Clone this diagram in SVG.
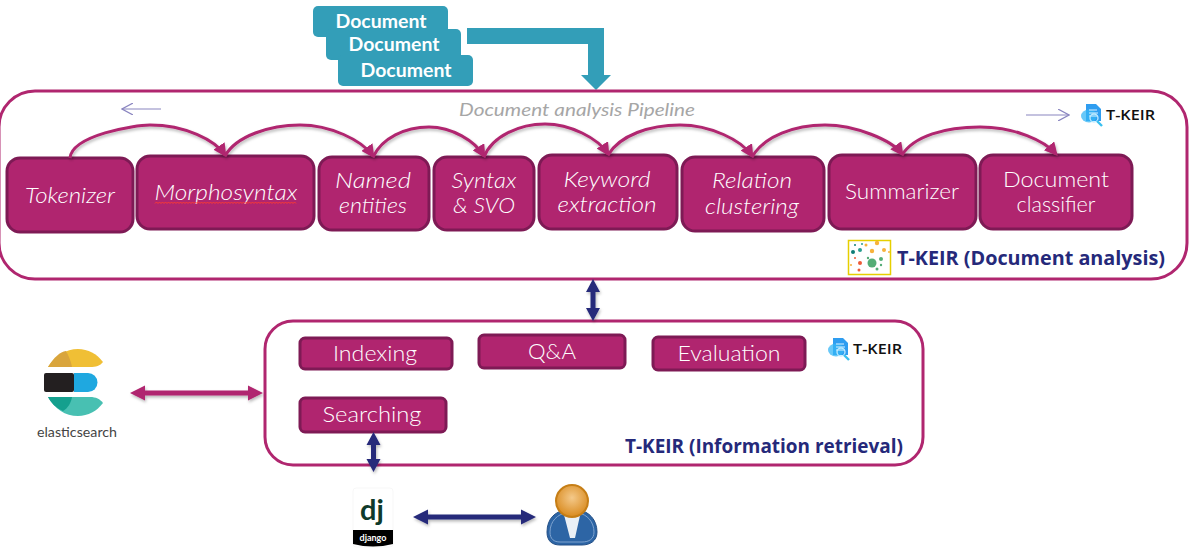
<svg xmlns="http://www.w3.org/2000/svg" width="1190" height="553" viewBox="0 0 1190 553">
<style>
text{font-family:"Lato","Open Sans","Liberation Sans",sans-serif}
.container{fill:#fff;stroke:#b0266f;stroke-width:3}
.step{fill:#b0256f;stroke:#7e1a55;stroke-width:3}
.lbl{fill:#fff;font-size:22px;text-anchor:middle;font-weight:300}
.it{font-style:italic}
.doc{fill:#339eb8}
.doct{fill:#fff;font-size:18px;font-weight:700;text-anchor:middle}
.arc{fill:none;stroke:#b0266f;stroke-width:3;marker-end:url(#ah)}
.title{fill:#25297a;font-size:20px;font-weight:700;font-family:"Open Sans","Lato",sans-serif}
.thin{fill:none;stroke:#8a85c0;stroke-width:1.2}
.logot{fill:#111;font-size:15px;font-weight:600;font-family:"Open Sans",sans-serif}
</style>
<defs>
<filter id="sh" x="-20%" y="-20%" width="140%" height="140%"><feDropShadow dx="1" dy="2" stdDeviation="1.5" flood-color="#000" flood-opacity=".28"/></filter>
<marker id="ah" viewBox="0 0 10 10" refX="8" refY="5" markerWidth="4.5" markerHeight="4.5" orient="auto"><path d="M0 0L10 5L0 10Z" fill="#b0266f"/></marker>
<marker id="tm" viewBox="0 0 12 12" refX="11" refY="6" markerWidth="12" markerHeight="12" markerUnits="userSpaceOnUse" orient="auto"><path d="M0 0L11 6L0 12" fill="none" stroke="#8a85c0" stroke-width="1.2"/></marker>
<radialGradient id="head" cx=".5" cy=".4" r=".6"><stop offset="0" stop-color="#f4c98a"/><stop offset="1" stop-color="#d98a1e"/></radialGradient>
<symbol id="tk" viewBox="0 0 76 24" overflow="visible">
<path d="M6 1h10l5 5v12H6z" fill="#2f9df0"/><ellipse cx="9" cy="13" rx="8" ry="6.500" fill="#35b6f5" opacity=".75"/><path d="M9 7h8M9 10h9M9 13h9" stroke="#d9f1ff" stroke-width="1.200"/><circle cx="14" cy="15" r="4" fill="none" stroke="#bfeaff" stroke-width="1.300"/><path d="M17 18l5 5" stroke="#39c0f0" stroke-width="2.400"/>
<text class="logot" x="26" y="17" textLength="49" lengthAdjust="spacingAndGlyphs">T-KEIR</text>
</symbol>
</defs>

<g id="doc-1"><rect class="doc" x="313" y="6" width="135" height="31" rx="5"/><text class="doct" x="381" y="28" textLength="91" lengthAdjust="spacingAndGlyphs">Document</text></g>
<g id="doc-2"><rect class="doc" x="326" y="29" width="135" height="31" rx="5"/><text class="doct" x="394" y="51" textLength="91" lengthAdjust="spacingAndGlyphs">Document</text></g>
<g id="doc-3"><rect class="doc" x="338" y="55" width="135" height="31" rx="5"/><text class="doct" x="406" y="77" textLength="91" lengthAdjust="spacingAndGlyphs">Document</text></g>
<path id="doc-arrow" class="doc" d="M467 28H604V75H611L596 90L581 75H588V44H467Z"/>

<g id="pipeline">
<rect class="container" x="-1" y="91" width="1188" height="188" rx="36"/>
<text x="577" y="116" text-anchor="middle" font-size="18" font-style="italic" fill="#a6a6a6" font-weight="400" textLength="236" lengthAdjust="spacingAndGlyphs">Document analysis Pipeline</text>
<text class="title" x="897" y="265" textLength="268" lengthAdjust="spacingAndGlyphs">T-KEIR (Document analysis)</text>
<use href="#tk" x="1080" y="103" width="76" height="24"/>
<g id="scatter"><rect x="848.500" y="240.500" width="42" height="34" fill="#fff" stroke="#e6cf00" stroke-width="1.500"/>
<circle cx="872" cy="263" r="4.500" fill="#55ad76"/><circle cx="881" cy="259" r="2" fill="#55ad76"/><circle cx="877" cy="269" r="1.500" fill="#55ad76"/><circle cx="881" cy="265" r="1.200" fill="#55ad76"/><circle cx="868" cy="258" r="1.200" fill="#55ad76"/>
<circle cx="860" cy="250" r="2" fill="#2a9d8f"/><circle cx="853" cy="252" r="2" fill="#0f7d76"/><circle cx="855" cy="245" r="1" fill="#0f7d76"/><circle cx="862" cy="244" r="1" fill="#2a9d8f"/>
<circle cx="872" cy="251" r="2.200" fill="#f7b23b"/><circle cx="877" cy="243" r="2.200" fill="#f7b23b"/><circle cx="884" cy="250" r="2" fill="#f7b23b"/><circle cx="866" cy="245" r="1.500" fill="#f7b23b"/><circle cx="889" cy="252" r="1" fill="#f7b23b"/>
<circle cx="860" cy="263" r="2" fill="#ee5a38"/><circle cx="855" cy="258" r="1" fill="#ee5a38"/><circle cx="859" cy="270" r="1.500" fill="#ee5a38"/><circle cx="851" cy="265" r="1" fill="#f7b23b"/></g>
</g>

<g id="tokenizer"><rect class="step" x="7" y="158" width="126" height="74" rx="13"/><text class="lbl it" x="70" y="203" textLength="90" lengthAdjust="spacingAndGlyphs">Tokenizer</text></g>
<g id="morphosyntax"><rect class="step" x="137" y="156" width="177" height="73" rx="13"/><text class="lbl it" x="226" y="200" textLength="143" lengthAdjust="spacingAndGlyphs">Morphosyntax</text>
<path d="M155 203.500l1.500-1.500l1.500 1.500l1.500-1.500l1.500 1.500l1.500-1.500l1.500 1.500l1.500-1.500l1.500 1.500l1.500-1.500l1.500 1.500l1.500-1.500l1.500 1.500l1.500-1.500l1.500 1.500l1.500-1.500l1.500 1.500l1.500-1.500l1.500 1.500l1.500-1.500l1.500 1.500l1.500-1.500l1.500 1.500l1.500-1.500l1.500 1.500l1.500-1.500l1.500 1.500l1.500-1.500l1.500 1.500l1.500-1.500l1.500 1.500l1.500-1.500l1.500 1.500l1.500-1.500l1.500 1.500l1.500-1.500l1.500 1.500l1.500-1.500l1.500 1.500l1.500-1.500l1.500 1.500l1.500-1.500l1.500 1.500l1.500-1.500l1.500 1.500l1.500-1.500l1.500 1.500l1.500-1.500l1.500 1.500l1.500-1.500l1.500 1.500l1.500-1.500l1.500 1.500l1.500-1.500l1.500 1.500l1.500-1.500l1.500 1.500l1.500-1.500l1.500 1.500l1.500-1.500l1.500 1.500l1.500-1.500l1.500 1.500l1.500-1.500l1.500 1.500l1.500-1.500l1.500 1.500l1.500-1.500l1.500 1.500l1.500-1.500l1.500 1.500l1.500-1.500l1.500 1.500l1.500-1.500l1.500 1.500l1.500-1.500l1.500 1.500l1.500-1.500l1.500 1.500l1.500-1.500l1.500 1.500l1.500-1.500l1.500 1.500l1.500-1.500l1.500 1.500l1.500-1.500l1.500 1.500l1.500-1.500l1.500 1.500l1.500-1.500l1.500 1.500l1.500-1.500l1.500 1.500l1.500-1.500l1.500 1.500" fill="none" stroke="#ff3b30" stroke-width="1"/></g>
<g id="named-entities"><rect class="step" x="319" y="157" width="110" height="73" rx="13"/><text class="lbl it" x="373" y="188" textLength="76" lengthAdjust="spacingAndGlyphs">Named</text><text class="lbl it" x="373" y="213" textLength="68" lengthAdjust="spacingAndGlyphs">entities</text></g>
<g id="syntax-svo"><rect class="step" x="434" y="157" width="100" height="73" rx="13"/><text class="lbl it" x="484" y="188" textLength="65" lengthAdjust="spacingAndGlyphs">Syntax</text><text class="lbl it" x="484" y="213" textLength="62" lengthAdjust="spacingAndGlyphs">&amp; SVO</text></g>
<g id="keyword-extraction"><rect class="step" x="539" y="155" width="138" height="74" rx="13"/><text class="lbl it" x="607" y="187" textLength="87" lengthAdjust="spacingAndGlyphs">Keyword</text><text class="lbl it" x="607" y="212" textLength="99" lengthAdjust="spacingAndGlyphs">extraction</text></g>
<g id="relation-clustering"><rect class="step" x="682" y="157" width="142" height="74" rx="13"/><text class="lbl it" x="752" y="188" textLength="80" lengthAdjust="spacingAndGlyphs">Relation</text><text class="lbl it" x="752" y="214" textLength="94" lengthAdjust="spacingAndGlyphs">clustering</text></g>
<g id="summarizer"><rect class="step" x="829" y="155" width="147" height="74" rx="13"/><text class="lbl" x="902" y="199" textLength="114" lengthAdjust="spacingAndGlyphs">Summarizer</text></g>
<g id="document-classifier"><rect class="step" x="980" y="155" width="152" height="74" rx="13"/><text class="lbl" x="1056" y="187" textLength="106" lengthAdjust="spacingAndGlyphs">Document</text><text class="lbl" x="1056" y="212" textLength="79" lengthAdjust="spacingAndGlyphs">classifier</text></g>

<g id="retrieval">
<rect class="container" x="265" y="321" width="658" height="144" rx="28"/>
<text class="title" x="625" y="453" textLength="278" lengthAdjust="spacingAndGlyphs">T-KEIR (Information retrieval)</text>
<use href="#tk" x="827" y="337" width="76" height="24"/>
</g>
<g id="indexing"><rect class="step" x="300" y="338" width="152" height="31" rx="5"/><text class="lbl" x="375" y="361" textLength="84" lengthAdjust="spacingAndGlyphs">Indexing</text></g>
<g id="qa"><rect class="step" x="479" y="335" width="146" height="33" rx="5"/><text class="lbl" x="552" y="359" textLength="48" lengthAdjust="spacingAndGlyphs">Q&amp;A</text></g>
<g id="evaluation"><rect class="step" x="653" y="337" width="152" height="33" rx="5"/><text class="lbl" x="729" y="361" textLength="103" lengthAdjust="spacingAndGlyphs">Evaluation</text></g>
<g id="searching"><rect class="step" x="300" y="398" width="146" height="34" rx="5"/><text class="lbl" x="372" y="422" textLength="99" lengthAdjust="spacingAndGlyphs">Searching</text></g>

<g id="elasticsearch">
<path d="M48 367C55 356 66 349 78 349C88 349 97 354 103 362C100 366 96 367 90 367Z" fill="#f0bf35"/>
<path d="M48 367C54 357 60 352 66 351C69 356 71 362 72 367Z" fill="#d9a53c"/>
<rect x="44" y="373" width="30" height="19" rx="2" fill="#231f20"/>
<path d="M74 373H88a9.500 9.500 0 0 1 0 19H74Z" fill="#1fa8e0"/>
<path d="M48 397H90C96 397 100 399 103 403C97 411 88 416 78 416C65 416 55 409 48 397Z" fill="#48c0b2"/>
<path d="M48 397H72C71 403 68 408 63 411C56 408 51 403 48 397Z" fill="#14a08e"/>
<text x="77" y="437" font-size="13" fill="#444" text-anchor="middle" font-family="Open Sans" textLength="80" lengthAdjust="spacingAndGlyphs">elasticsearch</text>
</g>
<g id="django">
<rect x="353" y="488" width="40" height="59" rx="3" fill="#fff" stroke="#eee" stroke-width=".5"/>
<path d="M353 530H393V544Q373 549 353 544Z" fill="#000"/>
<text x="372" y="520" font-size="29" font-weight="700" fill="#0f3a2b" text-anchor="middle" font-family="Open Sans">dj</text>
<text x="373" y="541" font-size="9" font-weight="700" fill="#fff" text-anchor="middle" font-family="Open Sans">django</text>
</g>
<g id="user">
<path d="M547 532C547 518 556 511 566 510H578C589 511 597 520 597 532C597 541 590 545 582 545H560C552 545 547 541 547 532Z" fill="#2d65a5" stroke="#234f86" stroke-width="1"/>
<path d="M550 532C550 521 558 514 566 513H578C587 514 594 522 594 532C594 539 589 542 582 542H560C554 542 550 539 550 532Z" fill="none" stroke="#7fa3cf" stroke-width="1"/>
<path d="M563 511L572 514L581 511L575 538H570Z" fill="#fff" opacity=".9"/><path d="M567 512L572 538L577 512Z" fill="#eaf0f7"/>
<circle cx="572" cy="501" r="16" fill="url(#head)" stroke="#c67e16" stroke-width="2"/>
</g>

<g id="connectors">
<g filter="url(#sh)">
<path class="arc" d="M70 158C72 135 135 125 150 125C185 125 215 140 225 155"/>
<path class="arc" d="M225 156C236 136 270 125 300 125C330 125 362 140 373 156"/>
<path class="arc" d="M373 157C382 138 405 127 429 127C452 127 475 141 484 156"/>
<path class="arc" d="M484 157C492 136 520 124 545 124C570 124 598 138 608 154"/>
<path class="arc" d="M608 155C620 135 650 125 680 125C710 125 742 140 752 156"/>
<path class="arc" d="M752 157C764 136 795 125 825 125C855 125 892 140 902 154"/>
<path class="arc" d="M902 155C914 136 945 127 980 127C1015 127 1045 141 1056 154"/>
<path fill="#b0256f" d="M130 393L145 385.500V390.500H248V385.500L263 393L248 400.500V395.500H145V400.500Z"/>
<path fill="#25297a" d="M593 279L600 292H595.500V308H600L593 321L586 308H590.500V292H586Z"/>
<path fill="#25297a" d="M373.500 432L380.500 445H376V459H380.500L373.500 472L366.500 459H371V445H366.500Z"/>
<path fill="#25297a" d="M413 517L428 509.500V514.500H521V509.500L536 517L521 524.500V519.500H428V524.500Z"/>
</g>
<path class="thin" d="M161 109H122" marker-end="url(#tm)"/>
<path class="thin" d="M1026 115H1069" marker-end="url(#tm)"/>
</g>
</svg>
